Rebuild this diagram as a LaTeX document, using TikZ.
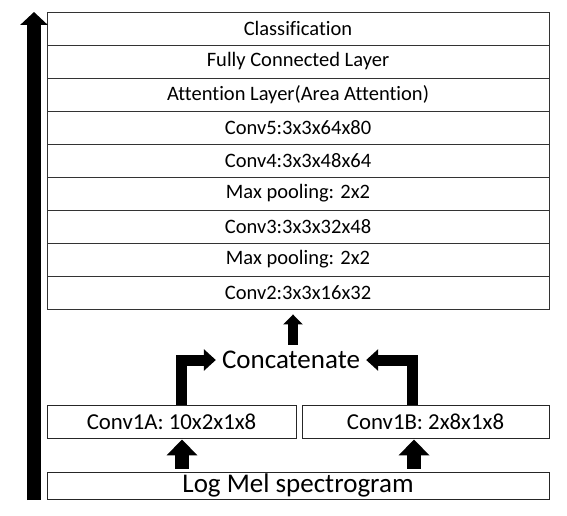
\documentclass[tikz,border=0pt]{standalone}
\usepackage{fontspec}
\setmainfont[RawFeature={-liga}]{Carlito}
\usetikzlibrary{arrows.meta,calc}
\begin{document}
\begin{tikzpicture}[x=1pt,y=-1pt,
  layer/.style={draw=black!80,line width=0.9pt,minimum width=502pt,minimum height=33pt,inner sep=0pt,font=\fontsize{20.5}{24}\selectfont},
  convbox/.style={draw=black!85,line width=0.9pt,minimum height=33pt,inner sep=0pt,font=\fontsize{22.8}{26}\selectfont},
  fatup/.style={line width=14pt,-{Triangle[width=30pt,length=16pt]}},
  elbow/.style={line width=11pt,-{Triangle[width=21pt,length=12pt]}},
  smallup/.style={line width=10pt,-{Triangle[width=19pt,length=10pt]}},
  mainup/.style={line width=14pt,-{Triangle[width=27pt,length=13pt]}}]
\useasboundingbox (0,0) rectangle (567,516);
\node[layer] (l1) at (298,28.5) {Classification};
\node[layer] (l2) at (298,61.5) {Fully Connected Layer};
\node[layer] (l3) at (298,94.5) {Attention Layer(Area Attention)};
\node[layer] (l4) at (298,127.5) {Conv5:3x3x64x80};
\node[layer] (l5) at (298,160.5) {Conv4:3x3x48x64};
\node[layer] (l6) at (298,193.5) {Max pooling: 2x2};
\node[layer] (l7) at (298,226.5) {Conv3:3x3x32x48};
\node[layer] (l8) at (298,259.5) {Max pooling: 2x2};
\node[layer] (l9) at (298,292.5) {Conv2:3x3x16x32};
\node[convbox,minimum width=249pt] (c1a) at (171.5,421.5) {Conv1A: 10x2x1x8};
\node[convbox,minimum width=247pt] (c1b) at (425.5,421.5) {Conv1B: 2x8x1x8};
\node[draw=black!85,line width=0.9pt,minimum width=502pt,minimum height=27pt,inner sep=0pt,font=\fontsize{27}{30}\selectfont] (mel) at (298,485.5) {Log Mel spectrogram};
\node[inner sep=6pt,font=\fontsize{27}{30}\selectfont] (cat) at (291,360) {Concatenate};
\coordinate (xa) at (182,0);
\coordinate (xb) at (414,0);
\coordinate (xl) at (181.5,0);
\coordinate (xr) at (412,0);
\coordinate (xt) at (293,0);
\coordinate (bigbot) at (34,500);
\coordinate (bigtop) at (34,12);
\draw[mainup] (bigbot) -- (bigtop);
\draw[fatup,shorten <=3pt,shorten >=1pt] (mel.north -| xa) -- (c1a.south -| xa);
\draw[fatup,shorten <=3pt,shorten >=1pt] (mel.north -| xb) -- (c1b.south -| xb);
\draw[elbow] (c1a.north -| xl) |- (cat.west);
\draw[elbow] (c1b.north -| xr) |- (cat.east);
\draw[smallup,shorten >=5pt] (cat.north -| xt) -- (l9.south -| xt);
\end{tikzpicture}
\end{document}
